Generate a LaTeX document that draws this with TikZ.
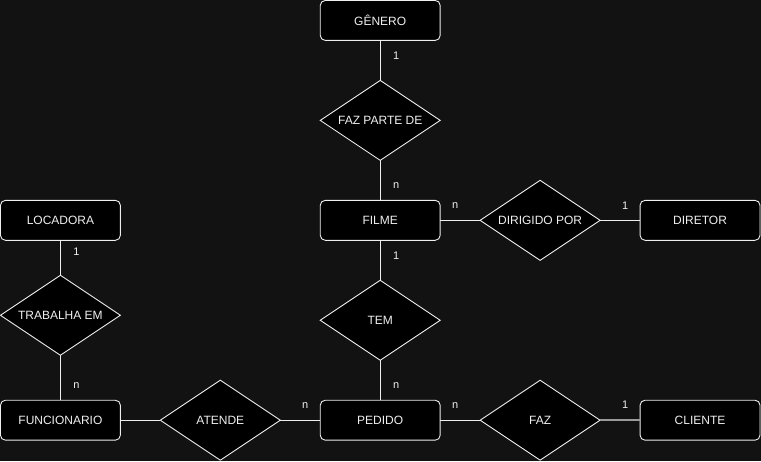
\documentclass[tikz,border=0pt]{standalone}
\usepackage{fontspec}
\setmainfont{Liberation Sans}
\usetikzlibrary{shapes.geometric}
\definecolor{bg-dark}{HTML}{121212}
\definecolor{line-light}{HTML}{EEEEEE}
\definecolor{text-light}{HTML}{F0F0F0}
\definecolor{line-gray}{HTML}{9A9A9A}

\begin{document}
\begin{tikzpicture}[x=1pt, y=-1pt,
    every node/.style={font=\fontsize{12}{14}\selectfont, text=text-light},
    entity/.style={draw=line-light, fill=black, line width=0.9pt, rounded corners=5pt,
      minimum width=120pt, minimum height=40pt, inner sep=0pt, outer sep=0pt},
    relation/.style={draw=line-light, fill=black, line width=0.9pt, diamond, aspect=1.5,
      minimum width=120pt, minimum height=80pt, inner sep=0pt, outer sep=0pt},
    link/.style={draw=line-light, line width=1pt},
    vcard/.style={font=\fontsize{11}{13}\selectfont, inner sep=0pt, xshift=16pt},
    hcard/.style={font=\fontsize{11}{13}\selectfont, inner sep=0pt, yshift=15pt}]
      \fill[bg-dark] (0,0) rectangle (761,461);
      % entities
      \node[entity] (genero) at (380,20) {GÊNERO};
      \node[entity] (filme) at (380,220) {FILME};
      \node[entity] (diretor) at (700,220) {DIRETOR};
      \node[entity] (locadora) at (60,220) {LOCADORA};
      \node[entity] (funcionario) at (60,420) {FUNCIONARIO};
      \node[entity] (pedido) at (380,420) {PEDIDO};
      \node[entity] (cliente) at (700,420) {CLIENTE};
      % relationships
      \node[relation] (fazparte) at (380,120) {FAZ PARTE DE};
      \node[relation] (dirigido) at (540,220) {DIRIGIDO POR};
      \node[relation] (trabalha) at (60,315) {TRABALHA EM};
      \node[relation] (tem) at (380,320) {TEM};
      \node[relation] (atende) at (220,420) {ATENDE};
      \node[relation] (faz) at (540,420) {FAZ};
      % connectors
      \draw[link] (genero.south) -- (fazparte.north) node[vcard, pos=0.375] {1};
      \draw[link] (fazparte.south) -- (filme.north) node[vcard, pos=0.625] {n};
      \draw[link] (filme.east) -- (dirigido.west) node[hcard, pos=0.375] {n};
      \draw[link] (dirigido.east) -- (diretor.west) node[hcard, pos=0.625] {1};
      \draw[link] (locadora.south) -- (trabalha.north) node[vcard, pos=0.333] {1};
      \draw[link] (trabalha.south) -- (funcionario.north) node[vcard, pos=0.667] {n};
      \draw[link] (filme.south) -- (tem.north) node[vcard, pos=0.375] {1};
      \draw[link] (tem.south) -- (pedido.north) node[vcard, pos=0.625] {n};
      \draw[link] (funcionario.east) -- (atende.west);
      \draw[link] (atende.east) -- (pedido.west) node[hcard, pos=0.625] {n};
      \draw[link] (pedido.east) -- (faz.west) node[hcard, pos=0.375] {n};
      \draw[link, draw=line-gray, line width=1.6pt] (faz.east) -- (cliente.west)
        node[hcard, pos=0.625] {1};
    \end{tikzpicture}
\end{document}
